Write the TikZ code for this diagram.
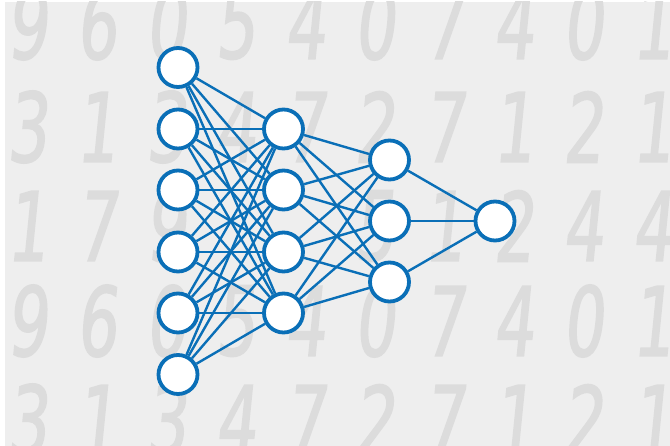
\documentclass[tikz,border=0pt]{standalone}
\usepackage{fontspec}
\newfontfamily\digitfont[FakeStretch=0.66,FakeSlant=0.1,FakeBold=1.5]{DejaVu Sans}
\definecolor{bgray}{HTML}{EEEEEE}
\definecolor{dig}{HTML}{DCDCDC}
\definecolor{nnblue}{HTML}{0A6FB7}
\begin{document}
\begin{tikzpicture}[x=1pt,y=-1pt,
  neuron/.style={circle,draw=nnblue,fill=white,line width=3.8pt,minimum size=39pt,inner sep=0pt},
  conn/.style={draw=nnblue,line width=2.4pt},
  digit/.style={text=dig,font=\digitfont\fontsize{96}{96}\selectfont,inner sep=0pt,anchor=center}]
\useasboundingbox (0,0) rectangle (670,446);
\fill[white] (0,0) rectangle (670,446);
\begin{scope}
\clip (5,2) rectangle (670,446);
\fill[bgray] (5,2) rectangle (670,446);
\foreach \d [count=\i from 0] in {9,6,0,5,4,0,7,4,0,1}
  \node[digit] (ra\i) at ({27+69.5*\i},24) {\d};
\foreach \d [count=\i from 0] in {3,1,3,4,7,2,7,1,2,1}
  \node[digit] (rb\i) at ({27+69.5*\i},127) {\d};
\foreach \d/\i in {1/0,7/1,9/2,5/5,1/6,2/7,4/8,4/9}
  \node[digit] (rc\i) at ({27+69.5*\i},226) {\d};
\foreach \d [count=\i from 0] in {9,6,0,5,4,0,7,4,0,1}
  \node[digit] (rd\i) at ({27+69.5*\i},321) {\d};
\foreach \d [count=\i from 0] in {3,1,3,4,7,2,7,1,2,1}
  \node[digit] (re\i) at ({27+69.5*\i},420) {\d};
\end{scope}
% neurons
\foreach \y [count=\i] in {67.5,129,190,252,313,374.5}
  \node[neuron] (i\i) at (178,\y) {};
\foreach \y [count=\i] in {129,190,252,313}
  \node[neuron] (h\i) at (283.5,\y) {};
\foreach \y [count=\i] in {160,221,282}
  \node[neuron] (g\i) at (389.5,\y) {};
\node[neuron] (o) at (495,221) {};
% connections
\foreach \a in {1,...,6}
  \foreach \b in {1,...,4}
    \draw[conn] (i\a) -- (h\b);
\foreach \a in {1,...,4}
  \foreach \b in {1,...,3}
    \draw[conn] (h\a) -- (g\b);
\foreach \a in {1,...,3}
  \draw[conn] (g\a) -- (o);
\end{tikzpicture}
\end{document}
